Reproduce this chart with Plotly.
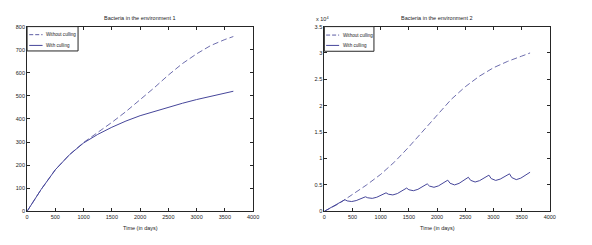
import plotly.graph_objects as go

# ---------------- data ----------------
# Environment 1
days1 = [0, 250, 500, 750, 1000, 1250, 1500, 1750, 2000, 2250, 2500, 2750, 3000, 3250, 3500, 3650]
no_cull1 = [0, 95, 180, 245, 298, 340, 385, 432, 482, 535, 590, 640, 682, 718, 744, 757]
cull1 = [0, 95, 180, 245, 296, 333, 364, 391, 414, 433, 451, 468, 484, 499, 512, 520]

# Environment 2 (x 10^4)
days2_nc = [0, 250, 500, 750, 1000, 1250, 1500, 1750, 2000, 2250, 2500, 2750, 3000, 3250, 3500, 3650]
no_cull2 = [0, 0.14, 0.32, 0.50, 0.70, 0.94, 1.22, 1.52, 1.84, 2.12, 2.36, 2.56, 2.72, 2.84, 2.94, 3.0]

days2_c = [0, 365, 405, 485, 565, 645,
           730, 770, 850, 930, 1010,
           1095, 1135, 1215, 1295, 1375,
           1460, 1500, 1580, 1660, 1740,
           1825, 1865, 1945, 2025, 2105,
           2190, 2230, 2310, 2390, 2470,
           2555, 2595, 2675, 2755, 2835,
           2920, 2960, 3040, 3120, 3200,
           3285, 3325, 3405, 3485, 3565, 3650]
cull2 = [0, 0.22, 0.197, 0.185, 0.203, 0.235,
         0.275, 0.256, 0.245, 0.266, 0.303,
         0.35, 0.324, 0.31, 0.336, 0.381,
         0.44, 0.408, 0.39, 0.416, 0.462,
         0.52, 0.478, 0.455, 0.482, 0.530,
         0.59, 0.532, 0.50, 0.529, 0.580,
         0.645, 0.587, 0.555, 0.581, 0.627,
         0.685, 0.620, 0.585, 0.610, 0.652,
         0.71, 0.639, 0.60, 0.628, 0.676, 0.74]

x_ticks = [0, 500, 1000, 1500, 2000, 2500, 3000, 3500, 4000]
y1_ticks = [0, 100, 200, 300, 400, 500, 600, 700, 800]
y2_ticks = [0, 0.5, 1, 1.5, 2, 2.5, 3, 3.5]
y2_labels = ["0", "0.5", "1", "1.5", "2", "2.5", "3", "3.5"]

titles = ["Bacteria in the environment 1", "Bacteria in the environment 2"]
series_names = ["Without culling", "With culling"]

# ---------------- styling ----------------
OFF = 8                      # default page body margin
W, H = 592 - OFF, 245 - OFF
LINE = "#46469a"
DASH_LINE = "#5c5ca4"
FRAME = "#262626"
FONT = "Liberation Sans Narrow, Liberation Sans, Arial"

def px(x):
    return (x - OFF) / W

def py(y):
    return 1 - (y - OFF) / H

fig = go.Figure()
fig.add_trace(go.Scatter(x=days1, y=no_cull1, mode="lines", name=series_names[0],
                         line=dict(color=DASH_LINE, width=0.9, dash="6px,3px"),
                         xaxis="x", yaxis="y", showlegend=False))
fig.add_trace(go.Scatter(x=days1, y=cull1, mode="lines", name=series_names[1],
                         line=dict(color=LINE, width=1),
                         xaxis="x", yaxis="y", showlegend=False))
fig.add_trace(go.Scatter(x=days2_nc, y=no_cull2, mode="lines", name=series_names[0],
                         line=dict(color=DASH_LINE, width=0.9, dash="6px,3px"),
                         xaxis="x2", yaxis="y2", showlegend=False))
fig.add_trace(go.Scatter(x=days2_c, y=cull2, mode="lines", name=series_names[1],
                         line=dict(color=LINE, width=1),
                         xaxis="x2", yaxis="y2", showlegend=False))

ax_common = dict(showline=True, linecolor=FRAME, linewidth=1, mirror="ticks",
                 ticks="inside", ticklen=3, tickcolor=FRAME, showgrid=False,
                 zeroline=False, tickfont=dict(family=FONT, size=5.5, color="#222"),
                 fixedrange=True)

ydom = [py(213.5), py(24)]
fig.update_layout(
    width=W, height=H,
    margin=dict(l=0, r=0, t=0, b=0),
    paper_bgcolor="white", plot_bgcolor="white",
    showlegend=False,
    xaxis=dict(domain=[px(25.3), px(254.5)], range=[0, 4000], tickvals=x_ticks,
               anchor="y", **ax_common),
    yaxis=dict(domain=ydom, range=[0, 800], tickvals=y1_ticks, anchor="x", **ax_common),
    xaxis2=dict(domain=[px(326.7), px(555.3)], range=[0, 4000], tickvals=x_ticks,
                anchor="y2", **ax_common),
    yaxis2=dict(domain=ydom, range=[0, 3.5], tickvals=y2_ticks, ticktext=y2_labels,
                anchor="x2", **ax_common),
)

ann = []
# titles
ann.append(dict(x=px(139.9), y=py(15.5), text=titles[0]))
ann.append(dict(x=px(441), y=py(15.5), text=titles[1]))
# x-axis titles
ann.append(dict(x=px(139.9), y=py(231), text="Time (in days)"))
ann.append(dict(x=px(441), y=py(231), text="Time (in days)"))
for a in ann:
    a.update(xref="paper", yref="paper", showarrow=False, xanchor="center", yanchor="middle",
             font=dict(family=FONT, size=5.5, color="#222"))
# exponent label
ann.append(dict(x=px(316), y=py(16), xref="paper", yref="paper", showarrow=False,
                xanchor="left", yanchor="middle", text="x 10<sup>4</sup>",
                font=dict(family=FONT, size=5.5, color="#222")))

shapes = []
# manual legends
legends = [
    dict(x0=25.3, x1=77, y0=24, y1=49, lx0=27.5, lx1=41, tx=42.5, r1=32.3, r2=43.3),
    dict(x0=326.7, x1=377, y0=24, y1=49.3, lx0=328.5, lx1=341.7, tx=343.5, r1=32.7, r2=43.3),
]
for lg in legends:
    shapes.append(dict(type="rect", xref="paper", yref="paper",
                       x0=px(lg["x0"]), x1=px(lg["x1"]), y0=py(lg["y1"]), y1=py(lg["y0"]),
                       line=dict(color=FRAME, width=1), fillcolor="white", layer="above"))
    shapes.append(dict(type="line", xref="paper", yref="paper",
                       x0=px(lg["lx0"]), x1=px(lg["lx1"]), y0=py(lg["r1"]), y1=py(lg["r1"]),
                       line=dict(color=DASH_LINE, width=1, dash="4px,2px"), layer="above"))
    shapes.append(dict(type="line", xref="paper", yref="paper",
                       x0=px(lg["lx0"]), x1=px(lg["lx1"]), y0=py(lg["r2"]), y1=py(lg["r2"]),
                       line=dict(color=LINE, width=1), layer="above"))
    for name, r in zip(series_names, [lg["r1"], lg["r2"]]):
        ann.append(dict(x=px(lg["tx"]), y=py(r), xref="paper", yref="paper", showarrow=False,
                        xanchor="left", yanchor="middle", text=name,
                        font=dict(family=FONT, size=4.6, color="#222")))

fig.update_layout(annotations=ann, shapes=shapes)
fig.write_html("out.html")
